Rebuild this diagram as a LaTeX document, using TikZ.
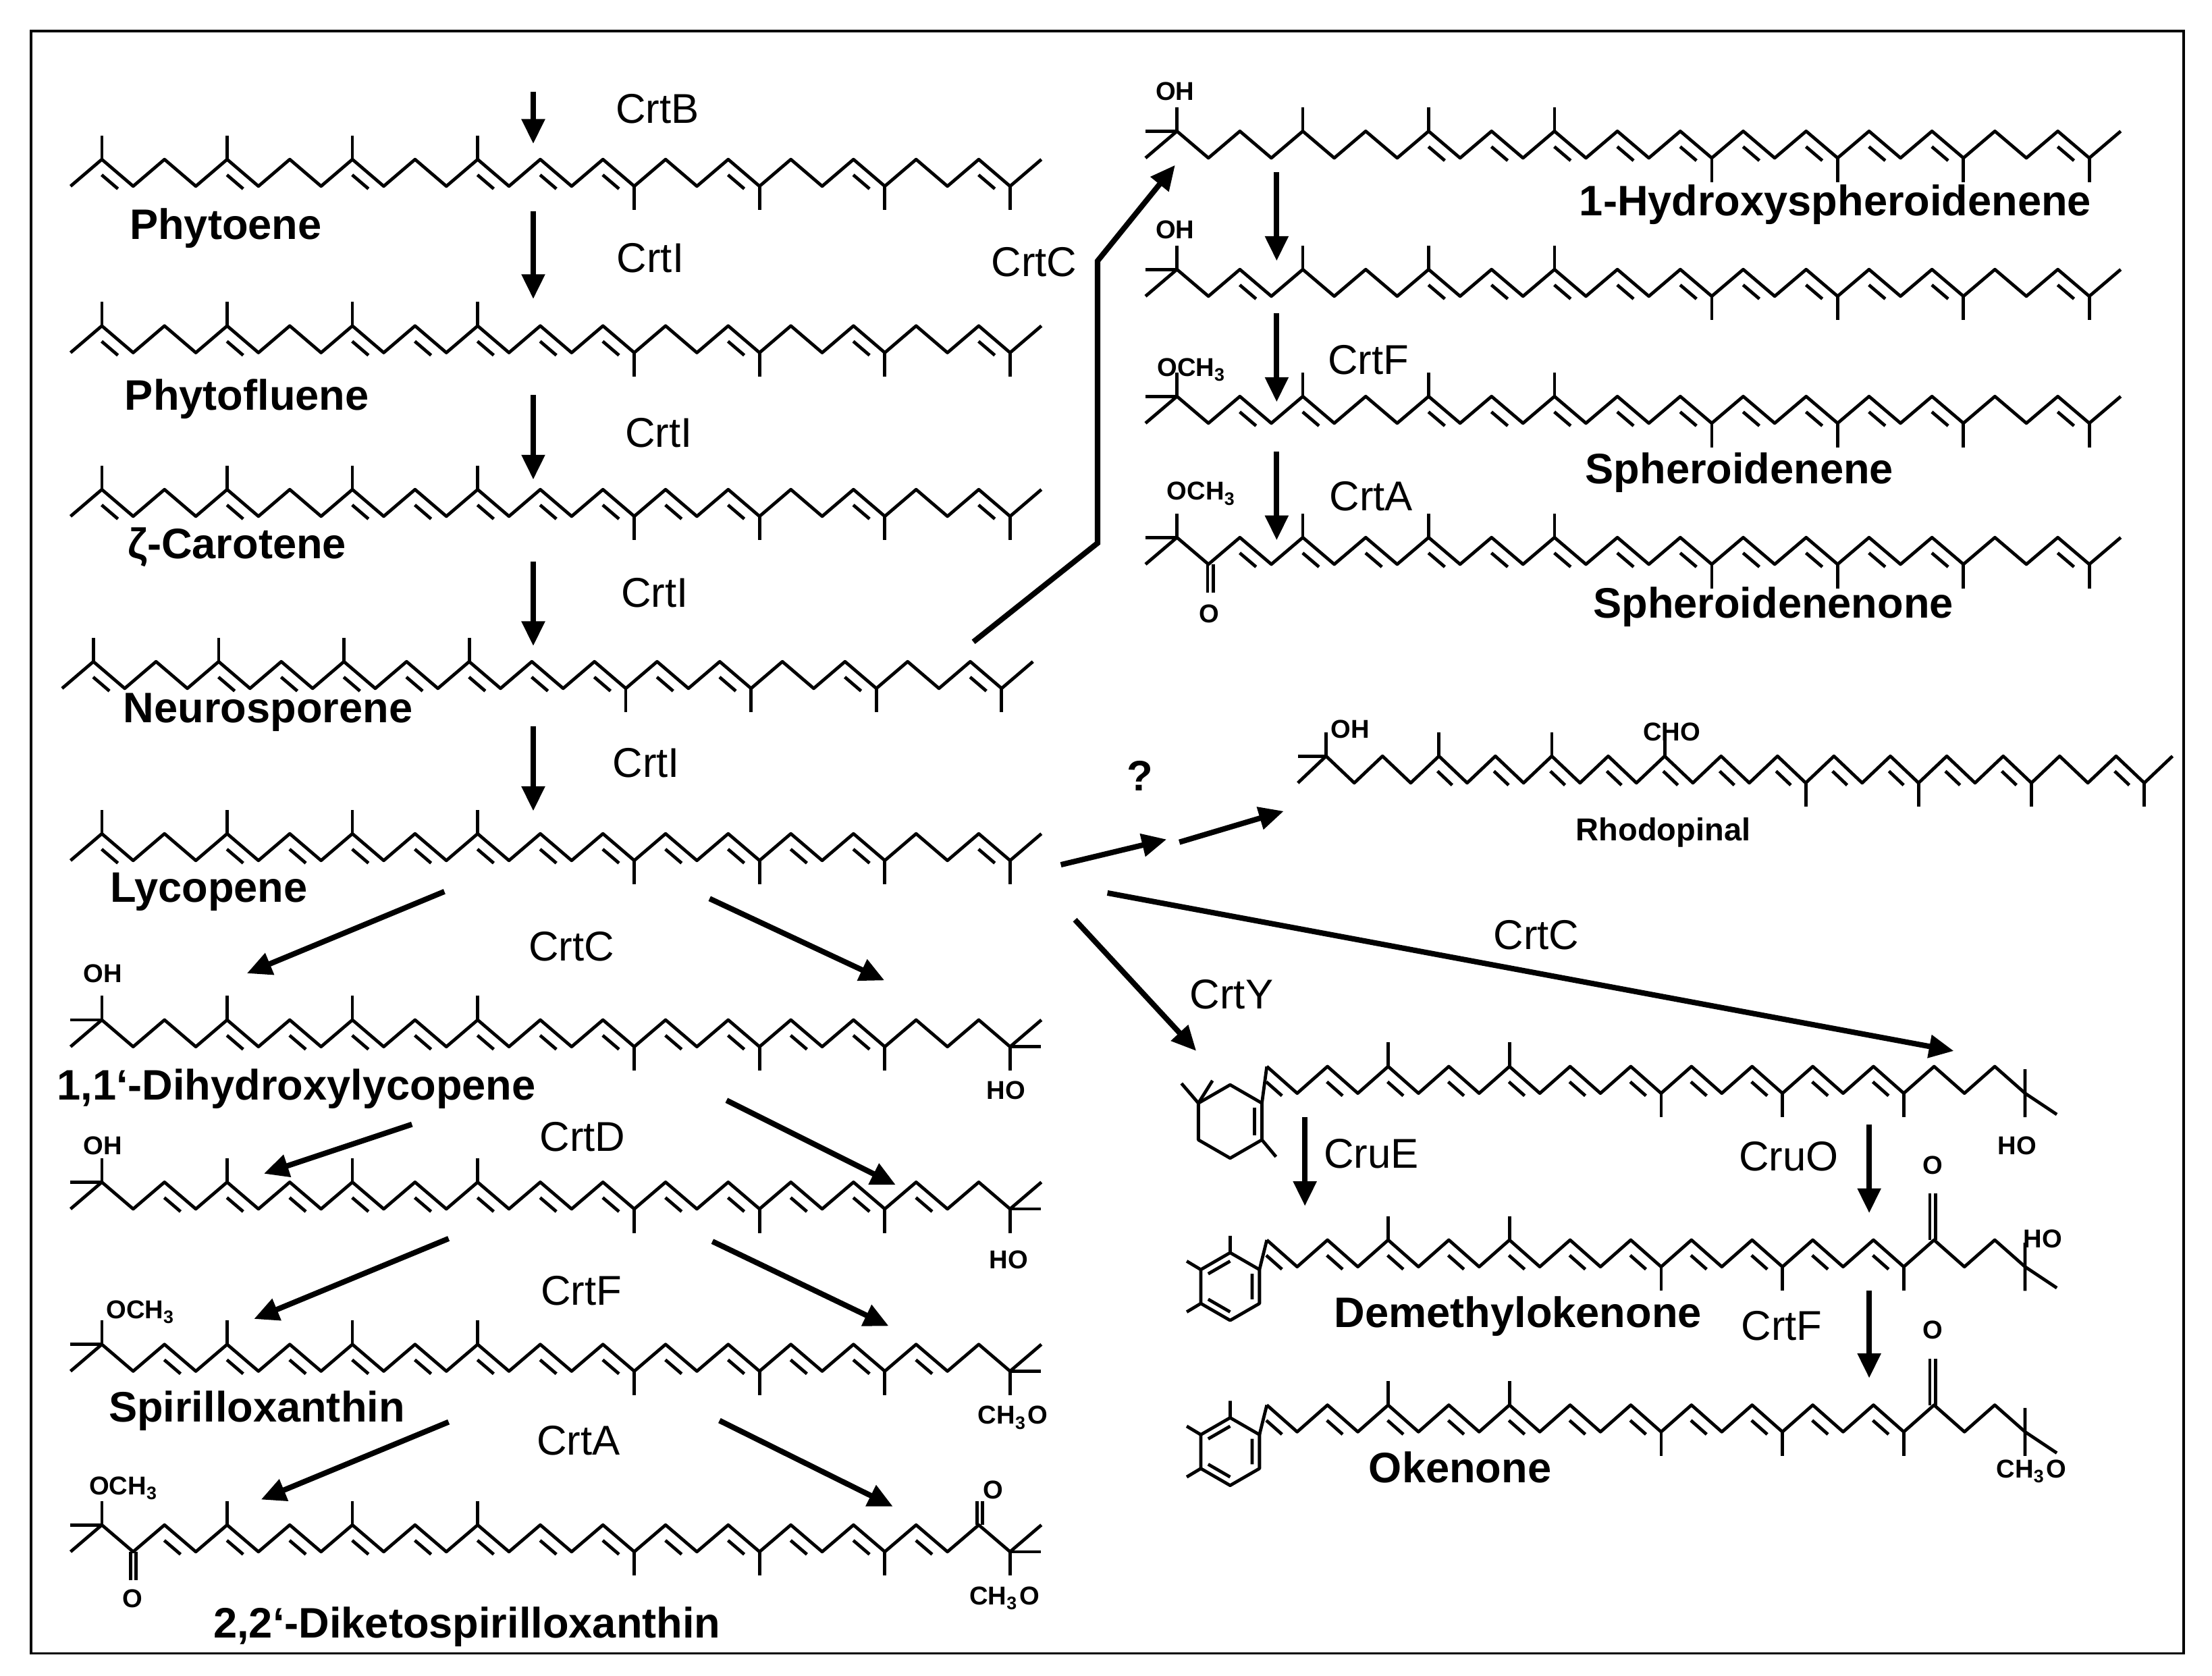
\documentclass[tikz,border=0pt]{standalone}
\usepackage{fontspec}
\setmainfont{Liberation Sans}
\usetikzlibrary{calc,arrows.meta}
\newcommand\hh{19}
\newcommand\mm{17}
% #1 d, #2 x0, #3 y0, #4 nseg, #5 parity, #6 double-bond segs, #7 up methyls, #8 down methyls
\newcommand\chn[8]{%
 \draw[bond] (#2,{#3-mod(#5,2)*\hh}) \foreach \i in {1,...,#4}{ -- ({#2+\i*#1},{#3-mod(\i+#5,2)*\hh}) };
 \foreach \i in {#6}{
  \coordinate (p) at ({#2+\i*#1},{#3-mod(\i+#5,2)*\hh});
  \coordinate (q) at ({#2+(\i+1)*#1},{#3-mod(\i+1+#5,2)*\hh});
  \draw[bond] ($(p)!.24!(q)!2.4pt!-90:(q)$) -- ($(q)!.24!(p)!2.4pt!90:(p)$);}
 \foreach \i in {#7}{\draw[bond] ({#2+\i*#1},{#3-\hh}) -- ++(0,-\mm);}
 \foreach \i in {#8}{\draw[bond] ({#2+\i*#1},#3) -- ++(0,\mm);}
}
\tikzset{bond/.style={line width=0.65pt,line join=round},
 arr/.style={line width=1.1pt,-{Triangle[length=5pt,width=4.5pt]}},
 lab/.style={font=\fontsize{8.6}{10}\selectfont\bfseries,inner sep=0},
 enz/.style={font=\fontsize{8.4}{10}\selectfont,inner sep=0},
 sub/.style={font=\fontsize{5.2}{6}\selectfont\bfseries,inner sep=0}}
\begin{document}
\begin{tikzpicture}[x=0.1mm,y=-0.1mm]
\useasboundingbox (0,0) rectangle (1568,1188);
\draw[line width=0.5pt] (22,22) rectangle (1548,1172);
% ---------- left column chains
\chn{22.2}{50}{132}{31}{0}{1,5,9,13,15,17,21,25,29}{1,5,9,13}{18,22,26,30}
\chn{22.2}{50}{250}{31}{0}{1,5,9,11,13,15,17,21,25,29}{1,5,9,13}{18,22,26,30}
\chn{22.2}{50}{366}{31}{0}{1,5,9,11,13,15,17,19,21,25,29}{1,5,9,13}{18,22,26,30}
\chn{22.2}{44}{488}{31}{0}{1,5,7,9,11,13,15,17,19,21,25,29}{1,5,9,13}{18,22,26,30}
\chn{22.2}{50}{610}{31}{0}{1,5,7,9,11,13,15,17,19,21,23,25,29}{1,5,9,13}{18,22,26,30}
\chn{22.2}{50}{742}{31}{0}{5,7,9,11,13,15,17,19,21,23,25}{1,5,9,13}{18,22,26,30}
\chn{22.2}{50}{857}{31}{0}{3,5,7,9,11,13,15,17,19,21,23,25,27}{1,5,9,13}{18,22,26,30}
\chn{22.2}{50}{972}{31}{0}{3,5,7,9,11,13,15,17,19,21,23,25,27}{1,5,9,13}{18,22,26,30}
\chn{22.2}{50}{1100}{31}{0}{3,5,7,9,11,13,15,17,19,21,23,25,27}{1,5,9,13}{18,22,26,30}
% hydroxyl / methoxy ends (left column)
\foreach \y in {742,857,972,1100}{
 \draw[bond] (72,\y-19) -- ++(-22,0);
 \draw[bond] (716,\y) -- ++(22,0);}
\draw[bond] (92.5,1100) -- (92.5,1120);
\draw[bond] (96.5,1100) -- (96.5,1120);
\draw[bond] (692.5,1081) -- (692.5,1064);
\draw[bond] (696.5,1081) -- (696.5,1064);
% ---------- right column chains
\chn{22.3}{812}{112}{31}{0}{9,11,13,15,17,19,21,23,25,29}{1,5,9,13}{18,22,26,30}
\chn{22.3}{812}{210}{31}{0}{3,9,11,13,15,17,19,21,23,25,29}{1,5,9,13}{18,22,26,30}
\chn{22.3}{812}{300}{31}{0}{3,5,9,11,13,15,17,19,21,23,25,29}{1,5,9,13}{18,22,26,30}
\chn{22.3}{812}{400}{31}{0}{3,5,7,9,11,13,15,17,19,21,23,25,29}{1,5,9,13}{18,22,26,30}
\foreach \y in {112,210,300,400}{\draw[bond] (834,\y-19) -- ++(-22,0);}
\draw[bond] (856,400) -- (856,420);
\draw[bond] (860,400) -- (860,420);
% rhodopinal
\chn{20}{920}{555}{31}{0}{5,7,9,11,13,15,17,19,21,23,25,29}{1,5,9,13}{18,22,26,30}
\draw[bond] (940,536) -- ++(-20,0);
% CrtY product (cyclohexene ring; y axis points down, so 270 = top)
\coordinate (r0) at (872,795);
\draw[bond] (r0)+(30:26) -- +(90:26) -- +(150:26) -- +(210:26) -- +(270:26) -- +(330:26) -- cycle;
\draw[bond] ($(r0)+(210:26)$) -- ++(-12,-14) ($(r0)+(210:26)$) -- ++(10,-16);
\draw[bond] ($(r0)+(30:26)$) -- ++(10,12);
\draw[bond] ($(r0)+(330:20)$) -- ($(r0)+(30:20)$);
\draw[bond] ($(r0)+(330:26)$) -- (898,756);
\chn{21.5}{898}{775}{25}{1}{0,2,4,6,8,10,12,14,16,18,20}{4,8}{13,17,21}
\draw[bond] (1435.5,775) -- (1458,790) (1435.5,775) -- (1435.5,792) (1435.5,775) -- (1435.5,758);
% demethylokenone & okenone (aromatic ring)
\foreach \y/\nm in {898/a,1015/b}{
 \coordinate (ar\nm) at (872,\y+14);
 \draw[bond] (ar\nm)+(30:24) -- +(90:24) -- +(150:24) -- +(210:24) -- +(270:24) -- +(330:24) -- cycle;
 \draw[bond] ($(ar\nm)+(270:18)$) -- ($(ar\nm)+(210:18)$) ($(ar\nm)+(150:18)$) -- ($(ar\nm)+(90:18)$) ($(ar\nm)+(30:18)$) -- ($(ar\nm)+(330:18)$);
 \draw[bond] ($(ar\nm)+(270:24)$) -- ++(0,-12) ($(ar\nm)+(210:24)$) -- ++(-10,-6) ($(ar\nm)+(150:24)$) -- ++(-10,6);
 \draw[bond] ($(ar\nm)+(330:24)$) -- (898,\y-19);
 \chn{21.5}{898}{\y}{25}{1}{0,2,4,6,8,10,12,14,16,18,20}{4,8}{13,17,21}
 \draw[bond] (1435.5,\y) -- (1458,\y+15) (1435.5,\y) -- (1435.5,\y+17) (1435.5,\y) -- (1435.5,\y-17);
 \draw[bond] (1368,\y-19) -- (1368,\y-52) (1372,\y-19) -- (1372,\y-52);
}
% ---------- labels
\node[lab] (n1) at (160,162) {Phytoene};
\node[lab] (n2) at (175,283) {Phytofluene};
\node[lab] (n3) at (168,388) {ζ-Carotene};
\node[lab] (n4) at (190,505) {Neurosporene};
\node[lab] (n5) at (148,632) {Lycopene};
\node[lab] (n6) at (210,772) {1,1‘-Dihydroxylycopene};
\node[lab] (n7) at (182,1000) {Spirilloxanthin};
\node[lab] (n8) at (331,1153) {2,2‘-Diketospirilloxanthin};
\node[lab] (n9) at (1301,145) {1-Hydroxyspheroidenene};
\node[lab] (n10) at (1233,335) {Spheroidenene};
\node[lab] (n11) at (1257,430) {Spheroidenenone};
\node[lab,font=\fontsize{6.4}{8}\selectfont\bfseries] (n12) at (1179,590) {Rhodopinal};
\node[lab] (n13) at (1076,933) {Demethylokenone};
\node[lab] (n14) at (1035,1040) {Okenone};
% enzymes
\node[enz] (e1) at (466,77) {CrtB};
\node[enz] (e2) at (461,183) {CrtI};
\node[enz] (e3) at (467,307) {CrtI};
\node[enz] (e4) at (464,420) {CrtI};
\node[enz] (e5) at (458,541) {CrtI};
\node[enz] (e6) at (733,186) {CrtC};
\node[enz] (e7) at (970,255) {CrtF};
\node[enz] (e8) at (972,352) {CrtA};
\node[lab] (e9) at (808,550) {?};
\node[enz] (e10) at (405,671) {CrtC};
\node[enz] (e11) at (413,806) {CrtD};
\node[enz] (e12) at (412,915) {CrtF};
\node[enz] (e13) at (410,1021) {CrtA};
\node[enz] (e14) at (1089,663) {CrtC};
\node[enz] (e15) at (873,705) {CrtY};
\node[enz] (e16) at (972,818) {CruE};
\node[enz] (e17) at (1268,820) {CruO};
\node[enz] (e18) at (1263,940) {CrtF};
% substituents
\node[sub] at (833,65) {OH};
\node[sub] at (833,163) {OH};
\node[sub] at (845,262) {OCH\textsubscript{3}};
\node[sub] at (852,350) {OCH\textsubscript{3}};
\node[sub] at (857,435) {O};
\node[sub] at (957,517) {OH};
\node[sub] at (1185,519) {CHO};
\draw[bond] (1180,536) -- (1180,528);
\node[sub] at (73,690) {OH};
\node[sub] at (713,773) {HO};
\node[sub] at (73,812) {OH};
\node[sub] at (715,893) {HO};
\node[sub] at (100,930) {OCH\textsubscript{3}};
\node[sub] at (718,1005) {CH\textsubscript{3}O};
\node[sub] at (88,1055) {OCH\textsubscript{3}};
\node[sub] at (94,1133) {O};
\node[sub] at (704,1056) {O};
\node[sub] at (712,1133) {CH\textsubscript{3}O};
\node[sub] at (1430,812) {HO};
\node[sub] at (1370,826) {O};
\node[sub] at (1448,878) {HO};
\node[sub] at (1370,943) {O};
\node[sub] at (1440,1043) {CH\textsubscript{3}O};
% ---------- arrows
\coordinate (a1) at (378,65); \coordinate (b1) at (378,102);
\coordinate (a2) at (378,150); \coordinate (b2) at (378,212);
\coordinate (a3) at (378,280); \coordinate (b3) at (378,340);
\coordinate (a4) at (378,398); \coordinate (b4) at (378,458);
\coordinate (a5) at (378,515); \coordinate (b5) at (378,575);
\coordinate (a6) at (905,122); \coordinate (b6) at (905,185);
\coordinate (a7) at (905,222); \coordinate (b7) at (905,285);
\coordinate (a8) at (905,320); \coordinate (b8) at (905,383);
\coordinate (a9) at (925,792); \coordinate (b9) at (925,855);
\coordinate (a10) at (1325,797); \coordinate (b10) at (1325,860);
\coordinate (a11) at (1325,915); \coordinate (b11) at (1325,977);
\foreach \k in {1,...,11}{\draw[arr] (a\k) -- (b\k);}
\coordinate (c1) at (690,455); \coordinate (c2) at (778,385); \coordinate (c3) at (778,185); \coordinate (c4) at (833,117);
\draw[arr] (c1) -- (c2) -- (c3) -- (c4);
\coordinate (d1s) at (315,632); \coordinate (d1e) at (175,690);
\coordinate (d2s) at (503,637); \coordinate (d2e) at (627,695);
\coordinate (d3s) at (292,797); \coordinate (d3e) at (187,832);
\coordinate (d4s) at (515,780); \coordinate (d4e) at (635,840);
\coordinate (d5s) at (318,878); \coordinate (d5e) at (180,935);
\coordinate (d6s) at (505,880); \coordinate (d6e) at (630,940);
\coordinate (d7s) at (318,1008); \coordinate (d7e) at (185,1063);
\coordinate (d8s) at (510,1007); \coordinate (d8e) at (633,1068);
\coordinate (d9s) at (752,613); \coordinate (d9e) at (827,595);
\coordinate (d10s) at (836,597); \coordinate (d10e) at (910,575);
\coordinate (d11s) at (785,633); \coordinate (d11e) at (1385,745);
\coordinate (d12s) at (762,652); \coordinate (d12e) at (848,745);
\foreach \k in {1,...,12}{\draw[arr] (d\k s) -- (d\k e);}
\end{tikzpicture}
\end{document}
